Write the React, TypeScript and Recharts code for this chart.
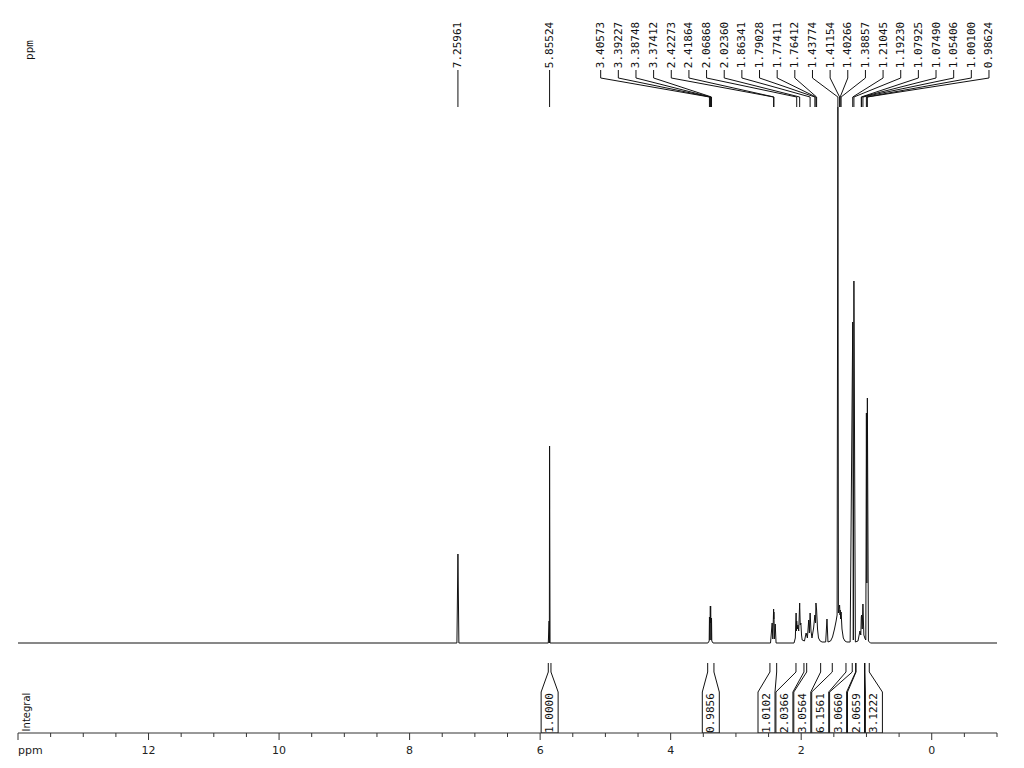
import { LineChart, Line, XAxis, YAxis, ReferenceDot } from "recharts";

// 1H spectrum trace: [ppm, intensity] (intensity 0 = baseline)
const spectrum: [number, number][] = [
  [14, 0], [7.275, 0], [7.2596, 89], [7.245, 0],
  [5.875, 0], [5.862, 22], [5.8588, 0], [5.8552, 197], [5.848, 0],
  [3.43, 0], [3.41, 2], [3.4057, 26], [3.399, 3], [3.3923, 37], [3.3899, 20], [3.3875, 37], [3.381, 3], [3.3741, 25], [3.37, 2], [3.35, 0],
  [2.47, 0], [2.445, 20], [2.435, 4], [2.4227, 34], [2.4205, 24], [2.4186, 31], [2.41, 4], [2.398, 19], [2.385, 0],
  [2.11, 0], [2.09, 5], [2.0782, 30], [2.072, 12], [2.0687, 22], [2.06, 14], [2.05, 18], [2.038, 12], [2.0236, 40], [2.015, 18], [2.005, 20], [1.995, 8], [1.985, 3],
  [1.95, 2], [1.925, 10], [1.905, 5], [1.885, 23], [1.875, 10], [1.8634, 30], [1.85, 12], [1.835, 5], [1.81, 15], [1.7903, 28], [1.78, 20], [1.7741, 40], [1.7641, 33], [1.75, 14], [1.735, 5], [1.71, 2], [1.68, 1],
  [1.625, 1], [1.605, 24], [1.59, 1],
  [1.55, 2], [1.52, 6], [1.49, 14], [1.465, 22], [1.45, 28], [1.4377, 536], [1.43, 30], [1.4115, 38], [1.405, 28], [1.4027, 33], [1.395, 24], [1.3886, 31], [1.375, 14], [1.355, 5], [1.33, 2], [1.3, 1],
  [1.25, 1], [1.2105, 321], [1.2015, 3], [1.1923, 362], [1.17, 1],
  [1.13, 2], [1.1, 12], [1.0868, 8], [1.0793, 26], [1.0749, 28], [1.065, 14], [1.0541, 39], [1.04, 8], [1.02, 4],
  [1.01, 3], [1.001, 230], [0.994, 60], [0.9862, 245], [0.97, 2], [0.94, 0], [-1, 0],
];

const peakPpm = [
  7.25961, 5.85524, 3.40573, 3.39227, 3.38748, 3.37412, 2.42273, 2.41864, 2.06868, 2.0236, 1.86341, 1.79028,
  1.77411, 1.76412, 1.43774, 1.41154, 1.40266, 1.38857, 1.21045, 1.1923, 1.07925, 1.0749, 1.05406, 1.001, 0.98624,
];

const integralStart = [5.875, 3.433, 2.479, 2.08, 1.916, 1.524, 1.218, 1.16, 1.023];
const integralEnd = [5.834, 3.337, 2.376, 1.958, 1.702, 1.314, 1.166, 1.03, 0.957];
const integralValue = ["1.0000", "0.9856", "1.0102", "2.0366", "3.0564", "6.1561", "3.0660", "2.0659", "3.1222"];

const xTicks = [14, 13.5, 13, 12.5, 12, 11.5, 11, 10.5, 10, 9.5, 9, 8.5, 8, 7.5, 7, 6.5, 6, 5.5, 5, 4.5, 4, 3.5, 3, 2.5, 2, 1.5, 1, 0.5, 0, -0.5, -1];

const W = 1024;
const H = 768;
const PLOT_LEFT = 18;
const PLOT_RIGHT = 997;
const PX_PER_PPM = (PLOT_RIGHT - PLOT_LEFT) / 15;
const LABEL_PITCH = 17.65 / PX_PER_PPM;
const LABEL_EDGE = -0.877;
const BOX_PITCH = 17.9 / PX_PER_PPM;
const BOX_HALF = 8.5 / PX_PER_PPM;
const MONO = "'DejaVu Sans Mono', monospace";
const INK = "#111";

// spread peak labels left-to-right, then pull back from the right edge
function spreadLabels(ppm: number[]) {
  const pos: number[] = [];
  ppm.forEach((p, i) => pos.push(i === 0 ? p : Math.min(p, pos[i - 1] - LABEL_PITCH)));
  pos[pos.length - 1] = Math.max(pos[pos.length - 1], LABEL_EDGE);
  for (let i = pos.length - 2; i >= 0; i--) pos[i] = Math.max(pos[i], pos[i + 1] + LABEL_PITCH);
  return pos;
}

// spread integral boxes: overlapping groups centred between their outer targets
function spreadBoxes(centers: number[]) {
  let groups = centers.map((c) => ({ items: [c] }));
  const place = (g: { items: number[] }) => {
    const mid = (g.items[0] + g.items[g.items.length - 1]) / 2;
    const first = mid + ((g.items.length - 1) * BOX_PITCH) / 2;
    return g.items.map((_, i) => first - i * BOX_PITCH);
  };
  let merged = true;
  while (merged) {
    merged = false;
    for (let i = 0; i < groups.length - 1; i++) {
      const a = place(groups[i]);
      const b = place(groups[i + 1]);
      if (a[a.length - 1] - b[0] < BOX_PITCH) {
        groups = [...groups.slice(0, i), { items: [...groups[i].items, ...groups[i + 1].items] }, ...groups.slice(i + 2)];
        merged = true;
        break;
      }
    }
  }
  return groups.flatMap(place);
}

function VText({ cx, cy, text, size, family, weight }: any) {
  return (
    <text
      x={cx}
      y={cy}
      transform={`rotate(-90 ${cx} ${cy})`}
      textAnchor="middle"
      dominantBaseline="central"
      fontSize={size}
      fontFamily={family}
      fontWeight={weight}
      fill={INK}
    >
      {text}
    </text>
  );
}

function PpmTick(props: any) {
  const { x, y, payload } = props;
  const v = payload.value as number;
  const major = Math.abs(v % 2) < 1e-9;
  const label = v === 14 ? "ppm" : major ? String(v) : "";
  return (
    <g>
      <line x1={x} y1={y} x2={x} y2={y + (major ? 7 : 4)} stroke="#333" />
      {label && (
        <text
          x={x}
          y={y + 17}
          textAnchor={v === 14 ? "start" : "middle"}
          dominantBaseline="central"
          fontSize={11}
          fontFamily="'DejaVu Sans', sans-serif"
          fill="#222"
        >
          {label}
        </text>
      )}
    </g>
  );
}

export default function App() {
  const labelPos = spreadLabels(peakPpm);
  const boxPos = spreadBoxes(integralStart.map((s, i) => (s + integralEnd[i]) / 2));
  const line = (d: { x: number; y: number }[], key: string) => (
    <Line
      key={key}
      data={d}
      dataKey="y"
      type="linear"
      stroke={INK}
      strokeWidth={1}
      dot={false}
      activeDot={false}
      isAnimationActive={false}
    />
  );

  return (
    <div style={{ position: "absolute", left: 0, top: 0, background: "#fff" }}>
      <LineChart width={W} height={H} margin={{ top: 8, right: W - PLOT_RIGHT, bottom: 0, left: PLOT_LEFT }}>
        <XAxis
          type="number"
          dataKey="x"
          domain={[-1, 14]}
          reversed
          allowDataOverflow
          ticks={xTicks}
          interval={0}
          tickLine={false}
          tickSize={0}
          tickMargin={0}
          tick={<PpmTick />}
          height={35}
          axisLine={{ stroke: "#333" }}
        />
        <YAxis type="number" domain={[-90, 635]} hide allowDataOverflow />

        {line(spectrum.map(([x, y]) => ({ x, y })), "spectrum")}

        {peakPpm.map((p, i) =>
          line(
            [
              { x: labelPos[i], y: 573 },
              { x: labelPos[i], y: 565 },
              { x: p, y: 546 },
              { x: p, y: 536 },
            ],
            `lead-${i}`
          )
        )}
        {peakPpm.map((p, i) => (
          <ReferenceDot
            key={`pl-${i}`}
            x={labelPos[i]}
            y={598}
            r={1}
            ifOverflow="visible"
            shape={(d: any) => <VText cx={d.cx} cy={d.cy} text={p.toFixed(5)} size={11} family={MONO} />}
          />
        ))}

        {integralValue.map((v, i) => {
          const c = boxPos[i];
          return line(
            [
              { x: integralStart[i], y: -20 },
              { x: integralStart[i], y: -29 },
              { x: c + BOX_HALF, y: -49 },
              { x: c + BOX_HALF, y: -90 },
              { x: c - BOX_HALF, y: -90 },
              { x: c - BOX_HALF, y: -49 },
              { x: integralEnd[i], y: -29 },
              { x: integralEnd[i], y: -20 },
            ],
            `int-${i}`
          );
        })}
        {integralValue.map((v, i) => (
          <ReferenceDot
            key={`il-${i}`}
            x={boxPos[i]}
            y={-70}
            r={1}
            ifOverflow="visible"
            shape={(d: any) => <VText cx={d.cx} cy={d.cy} text={v} size={11} family={MONO} />}
          />
        ))}

        <ReferenceDot
          x={14 - 11 / PX_PER_PPM}
          y={593}
          r={1}
          ifOverflow="visible"
          shape={(d: any) => <VText cx={d.cx} cy={d.cy} text="ppm" size={11} family={MONO} />}
        />
        <ReferenceDot
          x={14 - 8 / PX_PER_PPM}
          y={-69}
          r={1}
          ifOverflow="visible"
          shape={(d: any) => <VText cx={d.cx} cy={d.cy} text="Integral" size={10} family="'DejaVu Sans', sans-serif" />}
        />
      </LineChart>
    </div>
  );
}
